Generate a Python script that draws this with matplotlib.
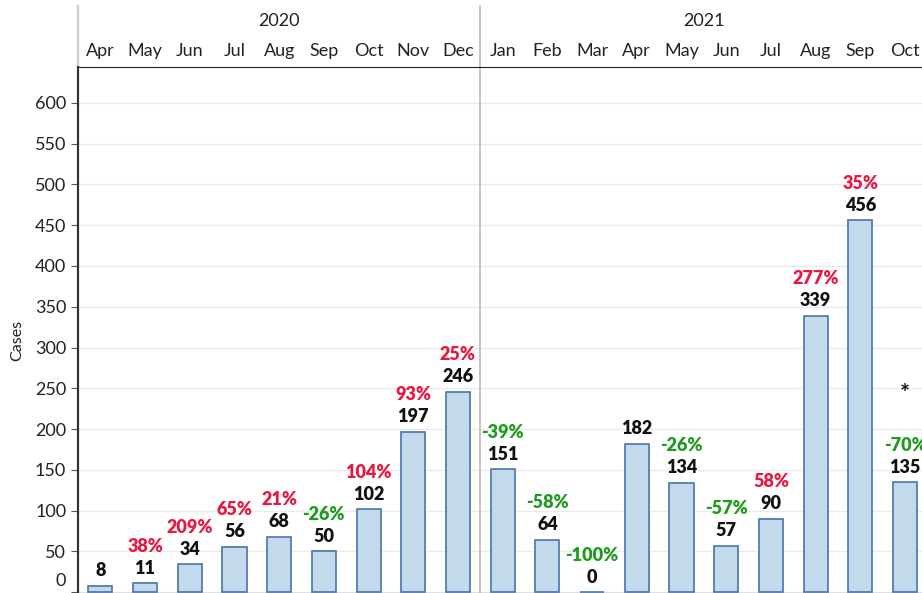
import matplotlib.pyplot as plt
import matplotlib.transforms as mtransforms
from matplotlib.lines import Line2D

# monthly cases, Apr 2020 - Oct 2021
months = ['Apr', 'May', 'Jun', 'Jul', 'Aug', 'Sep', 'Oct', 'Nov', 'Dec',
          'Jan', 'Feb', 'Mar', 'Apr', 'May', 'Jun', 'Jul', 'Aug', 'Sep', 'Oct']
years = ['2020'] * 9 + ['2021'] * 10
cases = [8, 11, 34, 56, 68, 50, 102, 197, 246,
         151, 64, 0, 182, 134, 57, 90, 339, 456, 135]
pct_change = [None, 38, 209, 65, 21, -26, 104, 93, 25,
              -39, -58, -100, None, -26, -57, 58, 277, 35, -70]
flagged = ['Oct 2021']

plt.rcParams['font.family'] = ['Lato', 'DejaVu Sans']

W, H = 922, 593
fig = plt.figure(figsize=(W / 100, H / 100), dpi=100)
left_px, top_px = 78, 67
ax = fig.add_axes([left_px / W, 0, (W - left_px) / W, (H - top_px) / H])

x = list(range(len(cases)))
ax.bar(x, cases, width=0.54, color='#C3D9EC', edgecolor='#4A74A8', linewidth=1.2, zorder=3)

ax.set_xlim(-0.5, 18.38)
ax.set_ylim(-1, 644)
ax.set_yticks(range(0, 601, 50))
ax.grid(axis='y', color='#EBEBEB', linewidth=1, zorder=0)
ax.set_xticks([])
ax.tick_params(axis='y', labelsize=13, length=5, color='#555555', labelcolor='#222222')
ax.set_ylabel('Cases', fontsize=11.5, color='#222222')
ax.yaxis.set_label_coords((24 - left_px) / (W - left_px), (593 - 340) / (H - top_px))

# nudge the 0 label up like the original
lbl0 = ax.get_yticklabels()[0]
lbl0.set_transform(lbl0.get_transform() + mtransforms.ScaledTranslation(0, 13 / 100, fig.dpi_scale_trans))

ax.spines['right'].set_visible(False)
ax.spines['left'].set_color('#333333')
ax.spines['left'].set_linewidth(1.5)
ax.spines['top'].set_color('#222222')
ax.spines['bottom'].set_color('#222222')

red, green = '#E8173F', '#1E9A1E'
for i, v in enumerate(cases):
    ax.annotate(str(v), (i, v), xytext=(0, 15), textcoords='offset pixels',
                ha='center', va='center', fontsize=13, fontweight='heavy', color='#111111', zorder=4)
    p = pct_change[i]
    if p is not None:
        ax.annotate(f'{p}%', (i, v), xytext=(0, 37), textcoords='offset pixels',
                    ha='center', va='center', fontsize=13, fontweight='heavy',
                    color=red if p > 0 else green, zorder=4)
    if f'{months[i]} {years[i]}' in flagged:
        ax.annotate('*', (i, v), xytext=(0, 88), textcoords='offset pixels',
                    ha='center', va='center', fontsize=17, fontweight='bold', color='#111111')

# header: months and years
trans = mtransforms.blended_transform_factory(ax.transData, fig.transFigure)
for i, m in enumerate(months):
    ax.text(i, 1 - 51 / H, m, transform=trans, ha='center', va='center', fontsize=13, color='#222222')
for yr in ['2020', '2021']:
    idx = [i for i, y in enumerate(years) if y == yr]
    ax.text((idx[0] + idx[-1]) / 2, 1 - 21 / H, yr, transform=trans, ha='center', va='center',
            fontsize=13, color='#222222')

# vertical lines through the header
ax.add_line(Line2D([-0.5, -0.5], [0, 1 - 6 / H], transform=trans, color='#333333',
                   linewidth=1.5, clip_on=False))
ax.add_line(Line2D([-0.5, -0.5], [1 - top_px / H, 1 - 6 / H], transform=trans, color='#D0D0D0',
                   linewidth=1.5, clip_on=False))
ax.add_line(Line2D([8.5, 8.5], [0, 1 - 6 / H], transform=trans, color='#BBBBBB',
                   linewidth=1.2, clip_on=False))

fig.savefig('out.png', dpi=100)
